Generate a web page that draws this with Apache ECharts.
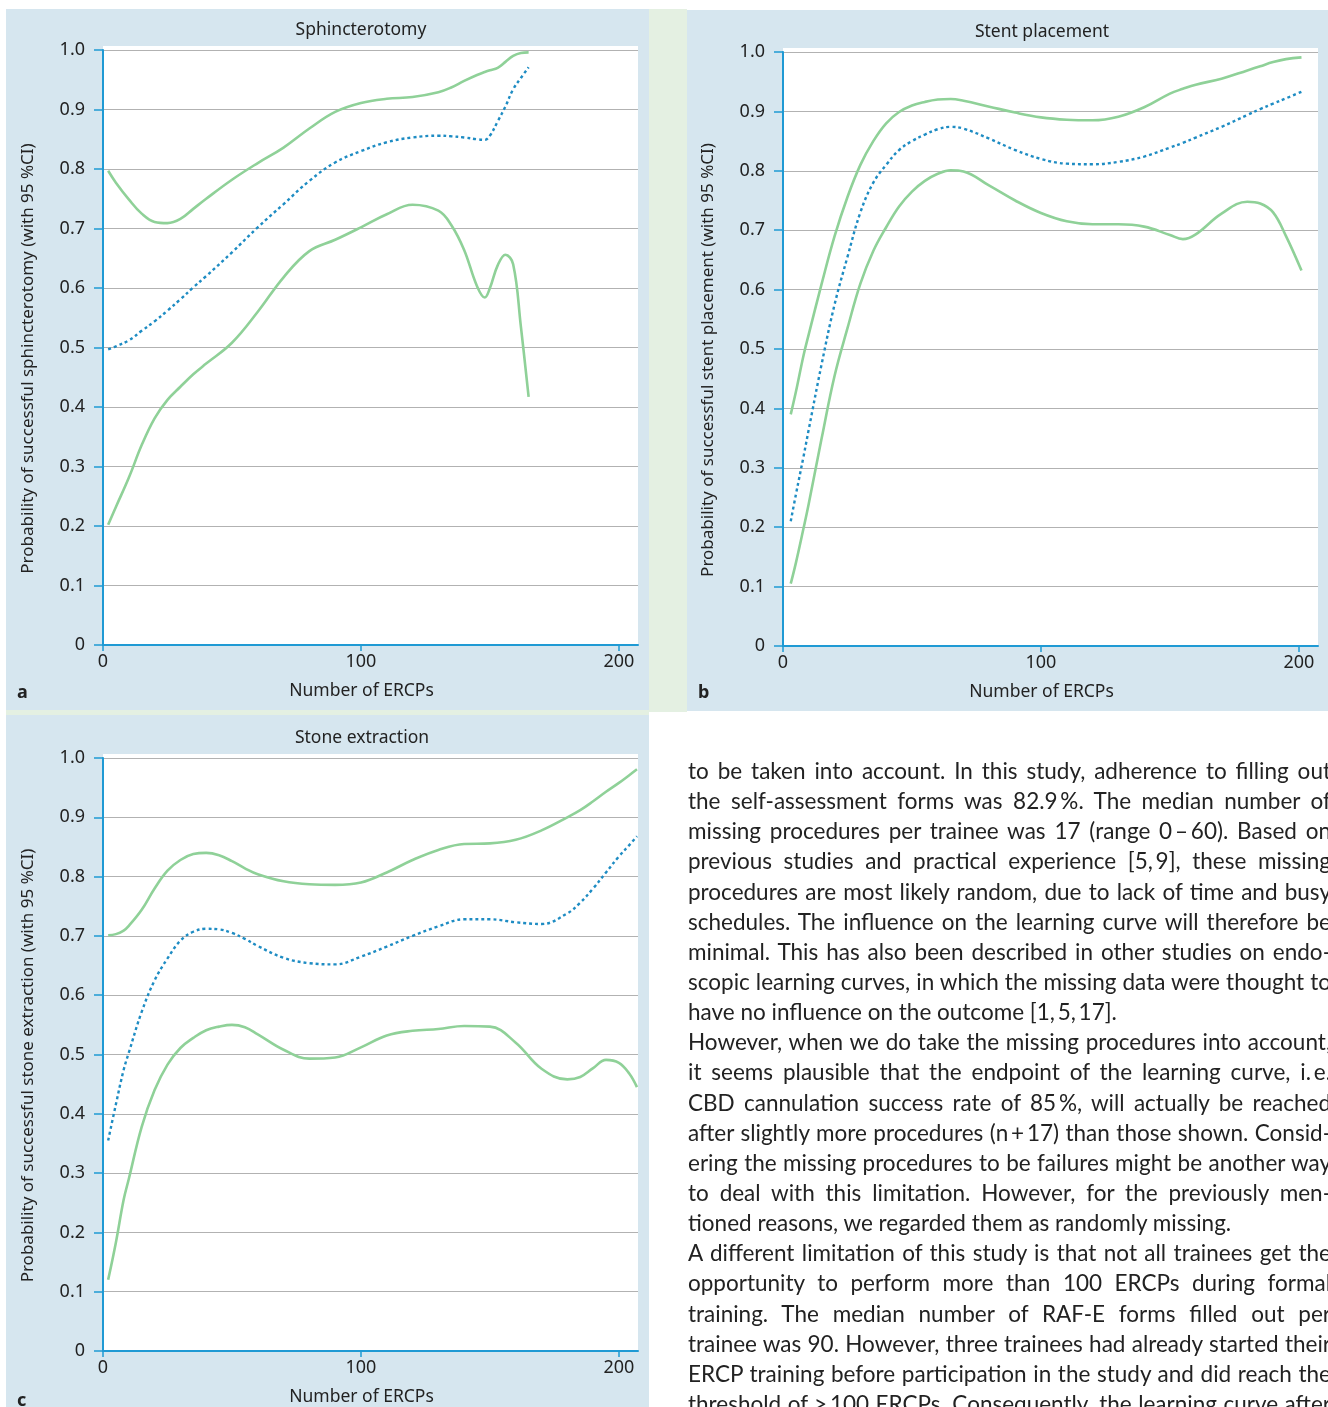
<!DOCTYPE html>
<html>
<head>
<meta charset="utf-8">
<script src="https://cdn.jsdelivr.net/npm/echarts@6/dist/echarts.min.js"></script>
<style>
  html, body { margin: 0; padding: 0; background: #fff; }
  #chart { position: absolute; left: 0; top: 0; width: 1328px; height: 1407px; }
  #text { position: absolute; left: 688px; top: 756px; width: 643px; height: 651px; overflow: hidden;
          font-family: Lato, "Noto Sans", sans-serif; font-size: 22.5px; color: #222; }
  #text div { height: 30.15px; line-height: 30.15px; white-space: nowrap; }
  #text span { display: inline-block; }
</style>
</head>
<body>
<div id="chart"></div>
<div id="text"></div>
<script>
// ---- data ----
var sphX     = [2, 5, 10, 15, 20, 25, 30, 35, 40, 50, 60, 70, 80, 90, 100, 110, 120, 130, 135, 140, 145, 148, 150, 153, 156, 159, 162, 165];
var sphUpper = [0.797, 0.777, 0.749, 0.725, 0.711, 0.709, 0.716, 0.733, 0.75, 0.782, 0.81, 0.836, 0.868, 0.896, 0.911, 0.918, 0.921, 0.929, 0.937, 0.948, 0.958, 0.963, 0.966, 0.97, 0.98, 0.99, 0.995, 0.996];
var sphMean  = [0.497, 0.502, 0.512, 0.528, 0.544, 0.562, 0.581, 0.601, 0.62, 0.66, 0.702, 0.741, 0.78, 0.811, 0.83, 0.845, 0.853, 0.856, 0.855, 0.853, 0.85, 0.849, 0.856, 0.88, 0.905, 0.934, 0.953, 0.971];
var sphLower = [0.202, 0.232, 0.281, 0.336, 0.381, 0.412, 0.434, 0.455, 0.473, 0.508, 0.56, 0.618, 0.662, 0.681, 0.702, 0.724, 0.74, 0.73, 0.706, 0.664, 0.603, 0.584, 0.6, 0.638, 0.656, 0.64, 0.535, 0.417];

var stentX     = [3, 5, 8, 10, 15, 20, 25, 30, 35, 40, 45, 50, 55, 60, 65, 70, 80, 90, 100, 110, 120, 130, 140, 150, 155, 160, 170, 180, 185, 190, 195, 201];
var stentUpper = [0.39, 0.428, 0.49, 0.525, 0.61, 0.69, 0.756, 0.81, 0.85, 0.88, 0.899, 0.91, 0.916, 0.92, 0.921, 0.918, 0.908, 0.898, 0.89, 0.886, 0.885, 0.891, 0.907, 0.93, 0.938, 0.945, 0.955, 0.969, 0.976, 0.983, 0.988, 0.991];
var stentMean  = [0.21, 0.255, 0.32, 0.365, 0.475, 0.575, 0.655, 0.73, 0.78, 0.81, 0.835, 0.85, 0.861, 0.87, 0.874, 0.871, 0.854, 0.835, 0.82, 0.812, 0.811, 0.815, 0.824, 0.839, 0.847, 0.856, 0.874, 0.894, 0.904, 0.913, 0.922, 0.933];
var stentLower = [0.105, 0.14, 0.199, 0.24, 0.35, 0.455, 0.535, 0.61, 0.665, 0.705, 0.74, 0.765, 0.783, 0.795, 0.801, 0.799, 0.775, 0.75, 0.729, 0.715, 0.71, 0.71, 0.706, 0.692, 0.685, 0.693, 0.728, 0.748, 0.745, 0.73, 0.69, 0.632];

var stoneX     = [2, 5, 8, 10, 15, 20, 25, 30, 35, 40, 45, 50, 55, 60, 70, 80, 90, 100, 110, 120, 130, 140, 150, 160, 170, 180, 185, 190, 195, 200, 204, 207];
var stoneUpper = [0.701, 0.703, 0.709, 0.717, 0.744, 0.78, 0.81, 0.828, 0.838, 0.84, 0.836, 0.826, 0.814, 0.804, 0.792, 0.787, 0.786, 0.79, 0.807, 0.828, 0.845, 0.855, 0.856, 0.862, 0.878, 0.9, 0.912, 0.927, 0.943, 0.958, 0.971, 0.981];
var stoneMean  = [0.355, 0.416, 0.474, 0.503, 0.572, 0.625, 0.662, 0.692, 0.707, 0.712, 0.711, 0.705, 0.695, 0.683, 0.663, 0.654, 0.652, 0.665, 0.682, 0.7, 0.716, 0.728, 0.728, 0.723, 0.72, 0.738, 0.756, 0.78, 0.807, 0.834, 0.853, 0.868];
var stoneLower = [0.12, 0.183, 0.255, 0.29, 0.378, 0.44, 0.483, 0.511, 0.528, 0.541, 0.547, 0.55, 0.546, 0.534, 0.508, 0.493, 0.495, 0.512, 0.532, 0.54, 0.543, 0.548, 0.547, 0.52, 0.476, 0.458, 0.462, 0.477, 0.491, 0.486, 0.468, 0.445];

var xTicks = [0, 100, 200];
var panelTitles = ["Sphincterotomy", "Stent placement", "Stone extraction"];
var panelLetters = ["a", "b", "c"];
var yNames = [
    "Probability of successful sphincterotomy (with 95 %CI)",
    "Probability of successful stent placement (with 95 %CI)",
    "Probability of successful stone extraction (with 95 %CI)"
];
var xName = "Number of ERCPs";

var T = "\u2009"; // thin space, as in the typeset page
var bodyLines = [
    "to be taken into account. In this study, adherence to filling out",
    "the self-assessment forms was 82.9" + T + "%. The median number of",
    "missing procedures per trainee was 17 (range 0" + T + "–" + T + "60). Based on",
    "previous studies and practical experience [5," + T + "9], these missing",
    "procedures are most likely random, due to lack of time and busy",
    "schedules. The influence on the learning curve will therefore be",
    "minimal. This has also been described in other studies on endo-",
    "scopic learning curves, in which the missing data were thought to",
    "have no influence on the outcome [1," + T + "5," + T + "17].",
    "However, when we do take the missing procedures into account,",
    "it seems plausible that the endpoint of the learning curve, i." + T + "e.",
    "CBD cannulation success rate of 85" + T + "%, will actually be reached",
    "after slightly more procedures (n" + T + "+" + T + "17) than those shown. Consid-",
    "ering the missing procedures to be failures might be another way",
    "to deal with this limitation. However, for the previously men-",
    "tioned reasons, we regarded them as randomly missing.",
    "A different limitation of this study is that not all trainees get the",
    "opportunity to perform more than 100 ERCPs during formal",
    "training. The median number of RAF-E forms filled out per",
    "trainee was 90. However, three trainees had already started their",
    "ERCP training before participation in the study and did reach the",
    "threshold of >" + T + "100 ERCPs. Consequently, the learning curve after"
];
var paragraphEnds = [8, 15];

// ---- styles ----
var font = '"Noto Sans", sans-serif';
var axisBlue = "#1f9ad4";
var green = "#8fd198";
var dotBlue = "#1e8cc3";
var panelBg = "#d6e6ef";
var stripBg = "#e4f0e2";

var grids = [
    { left: 103, top: 50, width: 535, height: 595 },
    { left: 783, top: 52, width: 535, height: 594 },
    { left: 103, top: 758, width: 535, height: 594 }
];

function pairs(xs, ys) {
    return xs.map(function (x, i) { return [x, ys[i]]; });
}

var sets = [
    [sphX, sphUpper, sphMean, sphLower],
    [stentX, stentUpper, stentMean, stentLower],
    [stoneX, stoneUpper, stoneMean, stoneLower]
];

var option = {
    animation: false,
    backgroundColor: "#fff",
    graphic: [
        { type: "rect", z: -10, shape: { x: 6, y: 9, width: 643, height: 701 }, style: { fill: panelBg } },
        { type: "rect", z: -10, shape: { x: 649, y: 9, width: 38, height: 703 }, style: { fill: stripBg } },
        { type: "rect", z: -10, shape: { x: 6, y: 710, width: 643, height: 5 }, style: { fill: stripBg } },
        { type: "rect", z: -10, shape: { x: 687, y: 10, width: 641, height: 701 }, style: { fill: panelBg } },
        { type: "rect", z: -10, shape: { x: 6, y: 715, width: 643, height: 692 }, style: { fill: panelBg } },
        { type: "rect", z: -9, shape: { x: 103, y: 46, width: 535, height: 6 }, style: { fill: "#fff" } },
        { type: "rect", z: -9, shape: { x: 783, y: 48, width: 535, height: 6 }, style: { fill: "#fff" } },
        { type: "rect", z: -9, shape: { x: 103, y: 754, width: 535, height: 6 }, style: { fill: "#fff" } }
    ],
    title: [],
    grid: [],
    xAxis: [],
    yAxis: [],
    series: []
};

var titlePos = [[356, 16], [1037, 18], [357, 724]];
var letterPos = [[12, 679], [693, 679], [12, 1387]];

for (var i = 0; i < 3; i++) {
    option.title.push({
        text: panelTitles[i], left: titlePos[i][0], top: titlePos[i][1], textAlign: "center",
        textStyle: { fontFamily: font, fontSize: 17.5, fontWeight: "normal", color: "#222" }
    });
    option.title.push({
        text: panelLetters[i], left: letterPos[i][0], top: letterPos[i][1],
        textStyle: { fontFamily: font, fontSize: 18, fontWeight: "bold", color: "#222" }
    });
    option.grid.push(Object.assign({ show: true, backgroundColor: "#fff", borderWidth: 0 }, grids[i]));
    option.xAxis.push({
        type: "value", gridIndex: i, min: 0, max: 207.4,
        name: xName, nameLocation: "middle", nameGap: 37,
        nameTextStyle: { fontFamily: font, fontSize: 17.5, color: "#222", padding: [0, 18, 0, 0] },
        axisLine: { show: true, onZero: false, lineStyle: { color: axisBlue, width: 2 } },
        axisTick: { show: true, length: 6, customValues: xTicks, lineStyle: { color: axisBlue, width: 1.5 } },
        axisLabel: { customValues: xTicks, margin: 8, fontFamily: font, fontSize: 18, color: "#222" },
        splitLine: { show: false }
    });
    option.yAxis.push({
        type: "value", gridIndex: i, min: 0, max: 1, interval: 0.1,
        name: yNames[i], nameLocation: "middle", nameGap: 66,
        nameTextStyle: { fontFamily: font, fontSize: 17, color: "#222", padding: [0, 22, 0, 0] },
        axisLine: { show: true, lineStyle: { color: axisBlue, width: 2 } },
        axisTick: { show: true, length: 9, lineStyle: { color: axisBlue, width: 1.5 } },
        axisLabel: {
            margin: 18, fontFamily: font, fontSize: 18, color: "#222",
            formatter: function (v) { return v === 0 ? "0" : v.toFixed(1); }
        },
        splitLine: { show: true, lineStyle: { color: "#b2b2b2", width: 1.2 } }
    });
    var s = sets[i];
    [1, 3].forEach(function (k) {
        option.series.push({
            type: "line", xAxisIndex: i, yAxisIndex: i, showSymbol: false, smooth: 0.4,
            lineStyle: { color: green, width: 2.6 }, data: pairs(s[0], s[k]), z: 3
        });
    });
    option.series.push({
        type: "line", xAxisIndex: i, yAxisIndex: i, showSymbol: false, smooth: 0.4,
        lineStyle: { color: dotBlue, width: 2.4, type: [3, 3] }, data: pairs(s[0], s[2]), z: 4
    });
}

var chart = echarts.init(document.getElementById("chart"), null, { renderer: "canvas" });
chart.setOption(option);

// ---- body text, justified line by line ----
var box = document.getElementById("text");
var W = 643;
var spans = bodyLines.map(function (line) {
    var row = document.createElement("div");
    var span = document.createElement("span");
    span.textContent = line;
    row.appendChild(span);
    box.appendChild(row);
    return span;
});
// one shared tracking so the longest line fits the column
var tracking = 0;
spans.forEach(function (span, idx) {
    var w = span.getBoundingClientRect().width;
    var t = (W - 2 - w) / bodyLines[idx].length;
    if (t < tracking) tracking = t;
});
spans.forEach(function (span, idx) {
    span.style.letterSpacing = tracking + "px";
    var natural = span.getBoundingClientRect().width;
    var spaces = (bodyLines[idx].match(/ /g) || []).length;
    if (paragraphEnds.indexOf(idx) < 0 && spaces > 0) {
        span.style.wordSpacing = ((W - natural) / spaces) + "px";
    }
});
</script>
</body>
</html>
